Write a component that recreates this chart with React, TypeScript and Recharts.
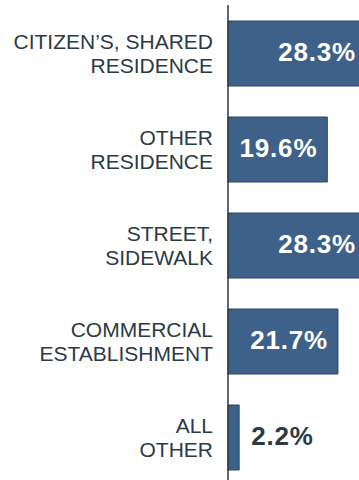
import { BarChart, Bar, XAxis, YAxis, LabelList } from "recharts";

const labelLines = [
  ["CITIZEN’S, SHARED", "RESIDENCE"],
  ["OTHER", "RESIDENCE"],
  ["STREET,", "SIDEWALK"],
  ["COMMERCIAL", "ESTABLISHMENT"],
  ["ALL", "OTHER"],
];
const categories = labelLines.map((l) => l.join(" "));
const shares = [28.3, 19.6, 28.3, 21.7, 2.2];

const data = categories.map((c, i) => ({ name: c, value: shares[i] }));

const TEXT = "#2b3a45";
const FONT = "'Liberation Sans', Arial, sans-serif";

function CategoryTick(props: any) {
  const { x, y, index } = props;
  const lines = labelLines[index] || [];
  return (
    <g>
      {lines.map((t, i) => (
        <text
          key={i}
          x={x}
          y={y + (i - (lines.length - 1) / 2) * 24}
          textAnchor="end"
          dominantBaseline="central"
          fill={TEXT}
          fontFamily={FONT}
          fontSize={21}
        >
          {t}
        </text>
      ))}
    </g>
  );
}

function ValueLabel(props: any) {
  const { x, y, width, height, value } = props;
  const cy = y + height / 2 - 2;
  const end = x + width;
  if (width < 40) {
    return (
      <text x={end + 12} y={cy} textAnchor="start" dominantBaseline="central"
        fill={TEXT} fontFamily={FONT} fontSize={26} fontWeight="bold" letterSpacing={0.8}>
        {value.toFixed(1)}%
      </text>
    );
  }
  return (
    <text x={Math.min(end - 10, 356)} y={cy} textAnchor="end" dominantBaseline="central"
      fill="#ffffff" fontFamily={FONT} fontSize={26} fontWeight="bold" letterSpacing={0.8}>
      {value.toFixed(1)}%
    </text>
  );
}

export default function App() {
  return (
    <div style={{ position: "absolute", left: 0, top: 0, width: 359, height: 480, overflow: "hidden", background: "#fff" }}>
      <BarChart
        width={380}
        height={485}
        data={data}
        layout="vertical"
        margin={{ top: 5, right: 0, bottom: 0, left: 0 }}
        barCategoryGap={0}
      >
        <XAxis type="number" domain={[0, 30]} hide />
        <YAxis
          type="category"
          dataKey="name"
          width={228}
          axisLine={{ stroke: TEXT, strokeWidth: 1.5 }}
          tickLine={false}
          tickSize={0}
          tickMargin={15}
          tick={<CategoryTick />}
          interval={0}
        />
        <Bar dataKey="value" fill="#3e6189" stroke="#2d4760" strokeWidth={1} barSize={65} isAnimationActive={false}>
          <LabelList dataKey="value" content={<ValueLabel />} />
        </Bar>
      </BarChart>
    </div>
  );
}
